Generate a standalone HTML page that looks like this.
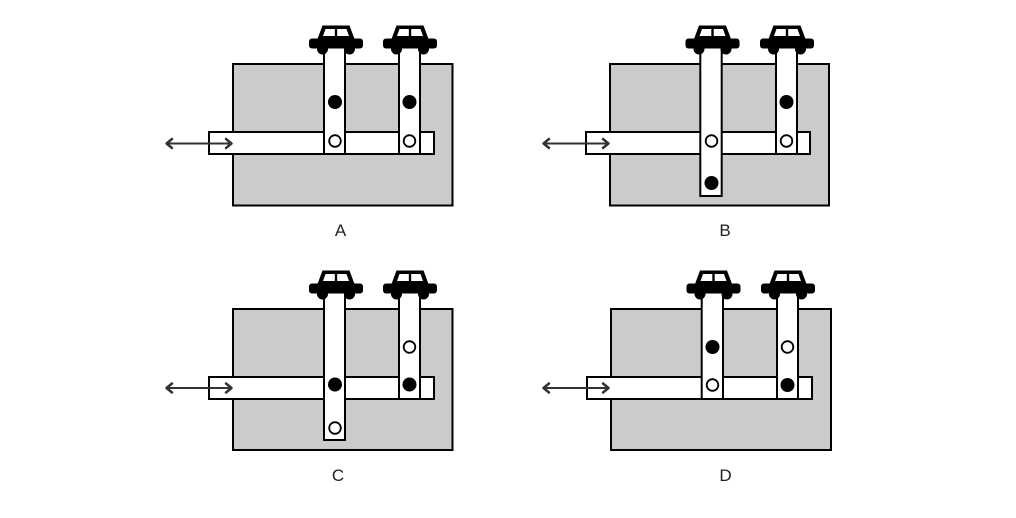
<!DOCTYPE html>
<html><head><meta charset="utf-8"><style>
html,body{margin:0;padding:0;background:#fff;}
svg{display:block;}
text{font-family:"Liberation Sans",sans-serif;font-size:17px;fill:#222;}
</style></head><body>
<svg width="1016" height="518" viewBox="0 0 1016 518" xmlns="http://www.w3.org/2000/svg">
<g stroke="#000" stroke-width="2">
<!-- Panel A -->
<rect x="233" y="64" width="219.5" height="141.5" fill="#cbcbcb"/>
<rect x="209" y="132" width="225" height="22" fill="#fff"/>
<rect x="324" y="46" width="21" height="108" fill="#fff"/>
<rect x="399" y="46" width="21" height="108" fill="#fff"/>
<!-- Panel B -->
<rect x="610" y="64" width="219" height="141.5" fill="#cbcbcb"/>
<rect x="586" y="132" width="224" height="22" fill="#fff"/>
<rect x="700.3" y="46" width="21.4" height="150" fill="#fff"/>
<rect x="776" y="46" width="21" height="108" fill="#fff"/>
<!-- Panel C -->
<rect x="233" y="309" width="219.5" height="141" fill="#cbcbcb"/>
<rect x="209" y="377" width="225" height="22" fill="#fff"/>
<rect x="324" y="291" width="21" height="149" fill="#fff"/>
<rect x="399" y="291" width="21" height="108" fill="#fff"/>
<!-- Panel D -->
<rect x="611" y="309" width="220" height="141" fill="#cbcbcb"/>
<rect x="587" y="377" width="225" height="22" fill="#fff"/>
<rect x="701.7" y="291" width="21.3" height="108" fill="#fff"/>
<rect x="777" y="291" width="21" height="108" fill="#fff"/>
</g>

<!-- dots -->
<g fill="#000">
<circle cx="335" cy="102" r="7"/>
<circle cx="409.5" cy="102" r="7"/>
<circle cx="711.5" cy="183" r="7"/>
<circle cx="786.5" cy="102" r="7"/>
<circle cx="335" cy="384.5" r="7"/>
<circle cx="409.5" cy="384.5" r="7"/>
<circle cx="712.5" cy="347" r="7"/>
<circle cx="787.5" cy="385" r="7"/>
</g>
<g fill="#fff" stroke="#000" stroke-width="1.8">
<circle cx="335" cy="141" r="5.8"/>
<circle cx="409.5" cy="141" r="5.8"/>
<circle cx="711.5" cy="141" r="5.8"/>
<circle cx="786.5" cy="141" r="5.8"/>
<circle cx="335" cy="428" r="5.8"/>
<circle cx="409.5" cy="347" r="5.8"/>
<circle cx="712.5" cy="385" r="5.8"/>
<circle cx="787.5" cy="347" r="5.8"/>
</g>

<!-- arrows -->
<g stroke="#333" stroke-width="2" fill="none" stroke-linecap="round" stroke-linejoin="round">
<line x1="167" y1="143.5" x2="231" y2="143.5"/>
<polyline points="172,139 166.5,143.5 172,148" stroke-width="2.5"/>
<polyline points="226,139 231.5,143.5 226,148" stroke-width="2.5"/>
<line x1="544" y1="143.5" x2="608" y2="143.5"/>
<polyline points="549,139 543.5,143.5 549,148" stroke-width="2.5"/>
<polyline points="603,139 608.5,143.5 603,148" stroke-width="2.5"/>
<line x1="167" y1="388" x2="231" y2="388"/>
<polyline points="172,383.5 166.5,388 172,392.5" stroke-width="2.5"/>
<polyline points="226,383.5 231.5,388 226,392.5" stroke-width="2.5"/>
<line x1="544" y1="388" x2="608" y2="388"/>
<polyline points="549,383.5 543.5,388 549,392.5" stroke-width="2.5"/>
<polyline points="603,383.5 608.5,388 603,392.5" stroke-width="2.5"/>
</g>

<!-- cars -->
<g transform="translate(336,26)">
<polygon points="-13.5,-0.5 13.5,-0.5 18.5,13 -18.5,13" fill="#000"/>
<rect x="-27" y="12.5" width="54" height="10" rx="3" fill="#000"/>
<circle cx="-13.5" cy="23" r="5.5" fill="#000"/><circle cx="13.5" cy="23" r="5.5" fill="#000"/>
<polygon points="-10.5,3 -1.2,3 -1.2,10 -13,10" fill="#fff"/>
<polygon points="1.2,3 10.5,3 13,10 1.2,10" fill="#fff"/>
</g>
<g transform="translate(410,26)">
<polygon points="-13.5,-0.5 13.5,-0.5 18.5,13 -18.5,13" fill="#000"/>
<rect x="-27" y="12.5" width="54" height="10" rx="3" fill="#000"/>
<circle cx="-13.5" cy="23" r="5.5" fill="#000"/><circle cx="13.5" cy="23" r="5.5" fill="#000"/>
<polygon points="-10.5,3 -1.2,3 -1.2,10 -13,10" fill="#fff"/>
<polygon points="1.2,3 10.5,3 13,10 1.2,10" fill="#fff"/>
</g>
<g transform="translate(712.5,26)">
<polygon points="-13.5,-0.5 13.5,-0.5 18.5,13 -18.5,13" fill="#000"/>
<rect x="-27" y="12.5" width="54" height="10" rx="3" fill="#000"/>
<circle cx="-13.5" cy="23" r="5.5" fill="#000"/><circle cx="13.5" cy="23" r="5.5" fill="#000"/>
<polygon points="-10.5,3 -1.2,3 -1.2,10 -13,10" fill="#fff"/>
<polygon points="1.2,3 10.5,3 13,10 1.2,10" fill="#fff"/>
</g>
<g transform="translate(787,26)">
<polygon points="-13.5,-0.5 13.5,-0.5 18.5,13 -18.5,13" fill="#000"/>
<rect x="-27" y="12.5" width="54" height="10" rx="3" fill="#000"/>
<circle cx="-13.5" cy="23" r="5.5" fill="#000"/><circle cx="13.5" cy="23" r="5.5" fill="#000"/>
<polygon points="-10.5,3 -1.2,3 -1.2,10 -13,10" fill="#fff"/>
<polygon points="1.2,3 10.5,3 13,10 1.2,10" fill="#fff"/>
</g>
<g transform="translate(336,271)">
<polygon points="-13.5,-0.5 13.5,-0.5 18.5,13 -18.5,13" fill="#000"/>
<rect x="-27" y="12.5" width="54" height="10" rx="3" fill="#000"/>
<circle cx="-13.5" cy="23" r="5.5" fill="#000"/><circle cx="13.5" cy="23" r="5.5" fill="#000"/>
<polygon points="-10.5,3 -1.2,3 -1.2,10 -13,10" fill="#fff"/>
<polygon points="1.2,3 10.5,3 13,10 1.2,10" fill="#fff"/>
</g>
<g transform="translate(410,271)">
<polygon points="-13.5,-0.5 13.5,-0.5 18.5,13 -18.5,13" fill="#000"/>
<rect x="-27" y="12.5" width="54" height="10" rx="3" fill="#000"/>
<circle cx="-13.5" cy="23" r="5.5" fill="#000"/><circle cx="13.5" cy="23" r="5.5" fill="#000"/>
<polygon points="-10.5,3 -1.2,3 -1.2,10 -13,10" fill="#fff"/>
<polygon points="1.2,3 10.5,3 13,10 1.2,10" fill="#fff"/>
</g>
<g transform="translate(713.5,271)">
<polygon points="-13.5,-0.5 13.5,-0.5 18.5,13 -18.5,13" fill="#000"/>
<rect x="-27" y="12.5" width="54" height="10" rx="3" fill="#000"/>
<circle cx="-13.5" cy="23" r="5.5" fill="#000"/><circle cx="13.5" cy="23" r="5.5" fill="#000"/>
<polygon points="-10.5,3 -1.2,3 -1.2,10 -13,10" fill="#fff"/>
<polygon points="1.2,3 10.5,3 13,10 1.2,10" fill="#fff"/>
</g>
<g transform="translate(788,271)">
<polygon points="-13.5,-0.5 13.5,-0.5 18.5,13 -18.5,13" fill="#000"/>
<rect x="-27" y="12.5" width="54" height="10" rx="3" fill="#000"/>
<circle cx="-13.5" cy="23" r="5.5" fill="#000"/><circle cx="13.5" cy="23" r="5.5" fill="#000"/>
<polygon points="-10.5,3 -1.2,3 -1.2,10 -13,10" fill="#fff"/>
<polygon points="1.2,3 10.5,3 13,10 1.2,10" fill="#fff"/>
</g>

<!-- labels -->
<text x="340.5" y="236" text-anchor="middle">A</text>
<text x="725" y="236" text-anchor="middle">B</text>
<text x="338" y="481" text-anchor="middle">C</text>
<text x="725.5" y="481" text-anchor="middle">D</text>
</svg>
</body></html>
